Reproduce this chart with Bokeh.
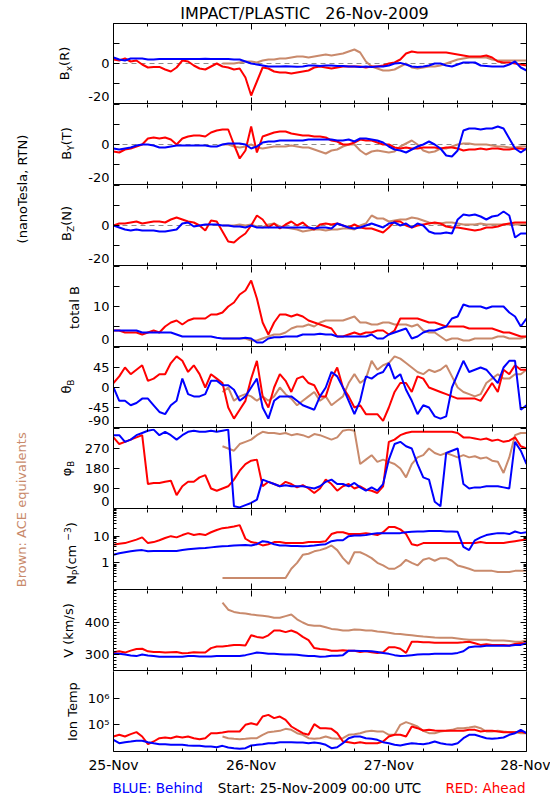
import math
from bokeh.plotting import figure
from bokeh.layouts import column, row
from bokeh.models import (Range1d, FixedTicker, LinearAxis, LogAxis, CustomJSTickFormatter, Span,
                          CustomLabelingPolicy)
from bokeh.core.properties import value
from bokeh.embed import file_html
from bokeh.resources import INLINE

# ---------------- data: hourly samples ----------------
HOURS = list(range(0, 73))        # hours since 25-Nov-2009 00:00 UTC (STEREO A/B)
ACE_HOURS = list(range(19, 73))   # ACE equivalents start ~19 UT on 25-Nov

DAY_TICKS = [0, 24, 48, 72]
DAY_LABELS = ["25-Nov", "26-Nov", "27-Nov", "28-Nov"]
SIX_HOUR_TICKS = [6, 12, 18, 30, 36, 42, 54, 60, 66]

BX_BEHIND = [3, 2, 1.5, 2.5, 2.5, 2.5, 2, 2, 2.3, 2.3, 2.3, 2.3,
             2.3, 2.3, 2.2, 2.3, 2.4, 2.3, 2.2, 2.3, 2.3, 2, 2, 1,
             0, -0.5, -1, -1.5, -1.5, -1.5, -1.4, -1.5, -1.6, -1.5, -1, -1,
             -1.2, -1, -1, -1.2, -1.2, -1.5, -1.5, -1.7, -1.5, -1.7, -1.5, -1.5,
             -1, 0, 0.3, -0.5, -1.5, -1.7, -1.5, -1, 0, 0, -1, -1.5,
             -0.5, 0.5, 0.5, 0.5, -1, -1.2, -1.5, -1.5, -1.5, -0.5, 1, -2,
             -3.5]
BX_AHEAD = [2, 1.5, 2.5, 1, 1.5, -0.5, -2, -1.8, -1.7, -3, -4, -2,
            1.5, 1, -1, -2.5, -3, -1.5, 0, -1.5, -2, -3, -2.5, -7,
            -16, -9, -2, -2.5, -4, -4.5, -4.5, -5, -4.5, -4, -3.5, -2,
            -1.5, -2, -2.5, -2, -1.5, -1.5, -1.5, -1.5, -2, -1.5, -1.5, -1,
            0, 0.5, 2, 5, 6, 5.5, 5.5, 5.5, 5.5, 5.5, 5.5, 5,
            4.5, 4, 3.5, 3.5, 3.5, 4, 3, 1, 0.5, 0.5, 0, -0.5,
            -1]
BX_ACE = [0, 0, 0, 0.5, 1, 1, 0.5, 1.5, 2, 2, 2.5, 2.5,
          3, 3.5, 3.5, 3, 3.5, 4, 4.5, 4, 4.5, 5, 6, 7,
          5.5, 1, -1.5, -2.5, -3.5, -3.5, -3, -1.5, 0, -2, -2.5, -2,
          -1.5, -1.5, -1, 0, 1, 2, 2.5, 3, 3, 3, 3, 2,
          1.5, 1.5, 1.5, 1.5, 1.5, 1.5]

BY_BEHIND = [-2, -2.5, -2, -1.5, -0.5, 0, 0, -0.5, -1.5, -1.5, -1, -0.5,
             -0.5, -0.5, -0.5, -0.5, -0.5, -1, -1, 0, 0.5, 0.5, 0.5, 0,
             -2, -1, 1, 1.5, 1.5, 2, 2, 2, 2, 2, 2.5, 2.5,
             2.5, 2.5, 2.5, 2, 2, 2.5, 1.5, 3, 3, 2.5, 2, 1,
             -1, -2.5, -3, -4, -2.5, -1, 0, 1.5, 0, -2, -5.5, -6,
             -3, 7, 8, 8, 7.5, 8, 8, 9, 8, 3, -2, -4,
             -2]
BY_AHEAD = [-3.5, -4, -2.5, -2, -1, 0, 3, 3.5, 3, 3.5, 2.5, 0,
            3, 4, 4.5, 4.5, 4, 6, 7, 7.5, 7.5, 0, -7, -3,
            9, -4, 4, 5, 6, 6.5, 6.5, 5.5, 5, 4.5, 4.5, 4,
            4, 3.5, 2, 1.5, 0, 0, 1, 2.5, 2, 2, 1, 0,
            0, -1.5, -2, -1.5, -2, -2, -1.5, -1.5, -1.5, -2, -1.5, -1.5,
            -2, -3, -2.5, -2.5, -2, -2.5, -2, -2, -2.5, -2.5, -2, -2,
            -2.5]
BY_ACE = [0, 0, -1, -1.5, -1, 0, -1.5, -2, -1.5, -1, -1, -1,
          -0.5, -1, -1.5, -1.5, -2.5, -3.5, -4.5, -3, -2.5, -1, 0, 0,
          -3, -5, -3.5, -3, -3.5, -4, -3.5, -1, 0.5, 2, 0, -3,
          -4, -3.5, -2, -2, -1, 0, 0.5, 0.5, 0, 0, 0, -0.5,
          -1, -1, -1.5, -1.5, -1, -1]

BZ_BEHIND = [0, -1, -2, -2.5, -2, -2.5, -2.5, -2.5, -3, -3, -2.5, -2,
             1, 1.5, -0.5, 0, 0.5, 0.5, 0.5, 0, 0, -0.5, -0.5, -1,
             0, -1, -1, -1, -1, -1, -1, -1, -1, -1, -1, -1.5,
             -1, -1, -1.5, 1, 0, -1, -1.5, -1, 0, 1, 0, -1,
             1, 1.5, 0, 1, -1, 1, 0, -3, -4, -4, -3.5, -4,
             3, 5.5, 5, 5.5, 4.5, 3, 4.5, 5, 7, 5, -6, -4,
             -4]
BZ_AHEAD = [0, 1, 1, 1.5, 2, 1, 1.5, 2, 2, 1.5, 3, 4,
            3, 2, 1.5, 0, -2.5, 2.5, 2, -3, -8, -8.5, -6, -4,
            0, 5, 3, -1, 1, -1.5, 0.5, 2, 0, 1.5, -1, -2,
            0.5, 1, 0.5, 1, 0, -1, 0.5, -1, -1.5, -1.5, -2.5, -3.5,
            -1, 2, 2, 0, -1, 0, 0.5, 1, 1.5, 1, -0.5, -1,
            -1, -1.5, -2, -2.5, -2, -1, -1, -0.5, 0.5, 1, 1.5, 1.5,
            1.5]
BZ_ACE = [0, 0, 0, 0.5, 0, 0.5, -0.5, -1, 0.5, 1, -0.5, -1,
          -1.5, -2, -3, -2.5, -2, -2, -2.5, -2, -2, -1.5, -1.5, -2,
          0, 1, 5, 3.5, 3.5, 2, 2.5, 3, 3, 4, 3.5, 2.5,
          1.5, 1, 1, 1.5, 1.5, 1, 0.5, 0.5, 0.5, 1, 0.5, 0.5,
          0.5, 0.5, 0.5, 0.5, 0.5, 0.5]

BT_AHEAD = [4, 4, 3.5, 3.5, 3.5, 3, 3.5, 4, 3.5, 5, 6, 6.5,
            5.5, 6.5, 7, 7, 7, 8, 8, 8.5, 10, 11, 13, 14,
            16.5, 12, 6, 3, 6, 8, 8, 7.5, 8, 7.5, 6.5, 6,
            5.5, 5, 4.5, 2.5, 2.5, 3, 3.5, 3, 3.5, 3.5, 4, 4,
            3, 4, 7, 7, 7, 7, 6.5, 6, 6, 5.5, 5, 5,
            5, 5, 4.5, 4.5, 4.5, 4.5, 4.5, 4, 3.5, 3.5, 3, 2.5,
            2.5]
BT_BEHIND = [4, 4, 4, 4, 4, 3.5, 3.5, 3.5, 3.5, 3.5, 3.5, 3,
             2.5, 2.5, 2.5, 2.5, 2.5, 2.5, 2.2, 2, 2, 2, 2, 2.2,
             2, 1, 1, 2, 2.3, 2.3, 2.5, 2.5, 2.5, 3, 3, 3,
             3.2, 3, 3, 2.5, 2.5, 2.5, 2.5, 2.5, 2.5, 3, 2, 2,
             3, 3.5, 4, 4.5, 2, 2.5, 3.5, 4, 4, 4.5, 5, 7,
             7.5, 10.5, 10, 10, 10, 9.5, 10, 10, 10, 8.5, 7.5, 5,
             7]
BT_ACE = [2, 2, 2, 2, 2, 1.5, 1.5, 2, 2.5, 3, 3, 3.5,
          4.5, 5, 5, 5.5, 5, 6, 6.5, 6.5, 6.5, 6.5, 7, 7.5,
          6, 6, 5.5, 5.5, 6, 6, 5.5, 5.5, 5.5, 5, 5.5, 4,
          3.5, 3.5, 2.5, 1.5, 2, 2, 1.5, 1.5, 2, 2, 2, 2,
          2.5, 2.5, 2, 2, 2, 2.5]

TH_BEHIND = [0, -30, -30, -40, -35, -25, -25, -40, -55, -60, -40, -30,
             20, -15, -20, -20, -15, 15, 15, 5, 5, -5, -30, -20,
             0, 20, -45, -70, -30, -20, -20, -20, -30, -40, -45, -50,
             -20, 0, 35, 25, 0, -30, -60, -30, 25, 20, 30, 35,
             55, 20, 30, -5, -30, -60, -40, -45, -65, -70, -65, 0,
             30, 60, 35, 40, 45, 40, 25, 10, 45, 60, 60, -50,
             -40]
TH_AHEAD = [10, 25, 45, 30, 40, 50, 15, 20, 30, 30, 55, 70,
            60, 35, 50, 30, 0, 30, 20, 10, -45, -70, -50, -30,
            20, 60, -20, -45, 0, 30, 15, -10, 20, 25, 10, 5,
            -20, -20, 20, 45, 0, -20, -45, -40, -60, -60, -60, -75,
            -45, -10, 10, 10, -10, 25, 20, 0, -5, -10, -15, -20,
            -25, -25, -25, -25, -30, -10, 10, -10, 40, 30, 50, 40,
            40]
TH_ACE = [-10, 0, -30, -20, -15, -20, -30, -20, -30, -20, 0, -15,
          -25, -40, -30, -20, -10, -30, -20, -40, -30, -20, 10, 30,
          10, 20, 60, 40, 50, 55, 70, 65, 55, 45, 35, 30,
          40, 35, 40, 50, 25, 0, -10, -15, -20, -15, 10, 20,
          30, 20, 20, 30, 30, 40]

PH_BEHIND = [330, 330, 300, 310, 330, 340, 350, 355, 330, 345, 330, 310,
             330, 345, 350, 345, 345, 350, 345, 350, 355, 10, 5, 15,
             25, 40, 130, 120, 110, 100, 105, 100, 100, 100, 95, 90,
             100, 120, 130, 110, 110, 100, 115, 95, 80, 95, 80, 110,
             220, 290, 300, 280, 270, 200, 140, 130, 30, 10, 250, 260,
             270, 110, 90, 95, 95, 100, 100, 100, 95, 90, 300, 260,
             200]
PH_AHEAD = [320, 290, 300, 310, 320, 330, 110, 115, 115, 120, 125, 60,
            100, 120, 120, 140, 150, 90, 80, 90, 100, 130, 170, 200,
            215, 220, 100, 120, 110, 100, 120, 110, 95, 105, 90, 70,
            90, 130, 110, 80, 100, 110, 90, 100, 85, 80, 70, 100,
            300, 310, 330, 340, 345, 345, 345, 345, 345, 345, 345, 345,
            340, 320, 320, 315, 310, 315, 305, 310, 300, 305, 320, 280,
            270]
PH_ACE = [280, 270, 260, 290, 300, 310, 330, 345, 340, 340, 335, 340,
          330, 335, 330, 320, 335, 330, 320, 310, 320, 350, 355, 350,
          200, 220, 240, 210, 220, 210, 200, 180, 140, 200, 230, 240,
          270, 250, 240, 250, 240, 230, 240, 230, 235, 225, 230, 215,
          210, 160, 230, 330, 340, 340]

NP_AHEAD = [4.8, 5.2, 5.5, 6.4, 7.4, 9, 5.5, 6, 7, 8.5, 10, 9,
            11, 13, 11, 12, 11, 14, 17, 20, 21, 23, 26, 8,
            6, 5.5, 4.5, 5, 6, 6, 5.5, 5.5, 5.5, 5.5, 6, 6,
            6, 6.5, 12, 14, 14, 12, 12, 12, 13, 12, 11, 14,
            22, 22, 18, 12, 5, 4.5, 5.5, 5.5, 5.5, 5.5, 5.5, 5.5,
            5.5, 5.5, 5.5, 5.5, 6, 5.5, 5.5, 5.5, 5.5, 6, 6.5, 7,
            7.5]
NP_BEHIND = [2, 2.3, 2.5, 2.7, 2.9, 3, 2.7, 2.8, 2.8, 2.8, 2.8, 2.8,
             3, 3.2, 3.4, 3.5, 3.6, 3.8, 4, 4.2, 4.3, 4.5, 4.6, 4.7,
             4.5, 5, 6.5, 6, 5, 4.5, 4.5, 4.3, 4.3, 4.2, 4.3, 4.5,
             4.8, 5, 6.5, 7, 7, 10, 10.5, 10.5, 11, 12, 13, 13,
             13, 13, 13, 14, 14.5, 15, 15, 15.5, 15.5, 15.5, 15, 15,
             14.5, 4, 3, 7, 9, 11, 12, 13, 13, 12, 15, 13,
             14]
NP_ACE = [0.27, 0.27, 0.27, 0.27, 0.27, 0.27, 0.27, 0.27, 0.27, 0.27, 0.27, 0.27,
          0.6, 1.0, 2, 2.2, 2.7, 3, 3.5, 4.5, 3, 1.5, 0.9, 2.5,
          2.5, 2, 1.5, 1, 0.8, 0.6, 0.6, 0.8, 1.3, 1, 0.8, 1.3,
          1.5, 1.2, 1.5, 1.5, 1.2, 0.8, 0.7, 0.6, 0.5, 0.5, 0.5, 0.5,
          0.45, 0.45, 0.45, 0.5, 0.5, 0.5]

V_BEHIND = [302, 302, 300, 297, 295, 300, 297, 295, 293, 293, 293, 293,
            293, 295, 295, 294, 294, 294, 295, 295, 295, 295, 295, 298,
            302, 306, 305, 302, 302, 301, 300, 300, 299, 297, 295, 295,
            293, 294, 296, 296, 298, 312, 312, 311, 311, 310, 308, 305,
            302, 298, 295, 296, 298, 300, 301, 301, 302, 302, 302, 302,
            305, 310, 323, 325, 325, 327, 327, 327, 327, 327, 330, 330,
            335]
V_AHEAD = [307, 310, 306, 312, 317, 318, 310, 308, 308, 306, 307, 308,
           304, 305, 307, 306, 306, 320, 325, 325, 327, 330, 330, 328,
           360, 355, 352, 360, 375, 375, 370, 375, 368, 355, 345, 320,
           317, 316, 312, 312, 313, 312, 312, 308, 310, 307, 305, 307,
           323, 323, 318, 305, 340, 340, 338, 338, 337, 337, 337, 337,
           337, 338, 340, 335, 330, 332, 330, 330, 330, 328, 333, 335,
           335]
V_ACE = [462, 440, 433, 430, 428, 425, 423, 421, 419, 415, 415, 420,
         425, 410, 400, 392, 390, 390, 385, 380, 378, 375, 375, 378,
         377, 375, 375, 372, 370, 368, 365, 364, 362, 360, 358, 356,
         355, 353, 352, 352, 352, 350, 348, 346, 346, 346, 346, 344,
         344, 344, 342, 340, 340, 345]

T_BEHIND = [27400, 20500, 22400, 23700, 25100, 25100, 22400, 20500, 18800, 18800, 17800, 17800,
            17800, 16800, 16300, 16300, 15400, 15400, 14500, 16300, 14100, 13300, 12600, 13300,
            16800, 17800, 18800, 20500, 20500, 22400, 22400, 22400, 21700, 21700, 20500, 21700,
            20500, 17800, 13300, 14500, 20500, 31600, 36500, 36500, 31600, 29900, 27400, 22400,
            20500, 17800, 16800, 18800, 20500, 19400, 18800, 20500, 23700, 20500, 18800, 17800,
            20500, 31600, 42200, 42200, 36500, 31600, 29900, 31600, 33500, 42200, 48700, 64900,
            48700]
T_AHEAD = [36500, 42200, 36500, 44700, 53100, 36500, 18800, 23700, 31600, 33500, 31600, 36500,
           33500, 36500, 31600, 29000, 31600, 48700, 48700, 51600, 56200, 56200, 56200, 100000,
           115000, 100000, 205000, 237000, 178000, 205000, 154000, 86600, 64900, 48700, 42200, 106000,
           75000, 75000, 70800, 48700, 23700, 22400, 20500, 22400, 20500, 20500, 20500, 23700,
           36500, 42200, 42200, 36500, 86600, 75000, 61300, 64900, 61300, 59600, 59600, 59600,
           59600, 59600, 64900, 64900, 56200, 59600, 59600, 56200, 53100, 53100, 53100, 56200,
           48700]
T_ACE = [36500, 31600, 29900, 29000, 29900, 31600, 31600, 42200, 53100, 56200, 59600, 70800,
         64900, 48700, 42200, 31600, 29900, 31600, 36500, 31600, 29900, 31600, 42200, 44700,
         48700, 56200, 59600, 56200, 56200, 42200, 42200, 100000, 126000, 106000, 86600, 59600,
         48700, 48700, 56200, 59600, 64900, 75000, 75000, 79400, 86600, 75000, 56200, 56200,
         59600, 56200, 53100, 53100, 48700, 48700]

# tick labels
B_TICK_LABELS = ["-20", "0"]
BT_TICK_LABELS = ["0", "10"]
TH_TICK_LABELS = ["-90", "-45", "0", "45"]
PH_TICK_LABELS = ["0", "90", "180", "270"]
NP_TICK_LABELS = ["1", "10"]
V_TICK_LABELS = ["300", "400"]
T_TICK_LABELS = ["10\u2075", "10\u2076"]

TITLE = "IMPACT/PLASTIC\u00a0 \u00a026-Nov-2009"
FOOT_LEFT = "BLUE: Behind"
FOOT_MID = "Start: 25-Nov-2009 00:00 UTC"
FOOT_RIGHT = "RED: Ahead"

BLUE = "#0000ff"
RED = "#ff0000"
BROWN = "#c98a6c"
FONT = "DejaVu Sans"

# ---------------- layout geometry (page origin = top-left of the picture) ----------------
LEFT_W = 81
FRAME_W = 413
FRAME_H = 80
BORDER_L = 30
BORDER_R = 26
HEADER_H = 22
LAST_BOTTOM = 27
FOOTER_H = 18
COL_H = 1 + 9 * (FRAME_H + 1) - 1 + LAST_BOTTOM   # height of the panels column
PANEL_W = BORDER_L + FRAME_W + BORDER_R
TOTAL_W = LEFT_W + PANEL_W
ROW_TOP = HEADER_H
FOOT_TOP = ROW_TOP + COL_H
BASE_FIX = 0.23   # text is drawn this much (in em) below the requested alphabetic baseline

log_minor = [m * d for d in (0.1, 1, 10) for m in range(2, 10)] + [0.1, 100]
v_minor = [v for v in range(250, 501, 10) if v not in (300, 400)]

# label positions sit a little inside the frame at the bottom edge (as in the IDL original)
SPECS = [
    dict(yr=(-20, 20), log=False, marks=[-20, -10, 0, 10, 20], pos=[-16.6, 0], labels=B_TICK_LABELS,
         zero=True, series=(BX_ACE, BX_AHEAD, BX_BEHIND)),
    dict(yr=(-20, 20), log=False, marks=[-20, -10, 0, 10, 20], pos=[-16.6, 0], labels=B_TICK_LABELS,
         zero=True, series=(BY_ACE, BY_AHEAD, BY_BEHIND)),
    dict(yr=(-20, 20), log=False, marks=[-20, -10, 0, 10, 20], pos=[-16.6, 0], labels=B_TICK_LABELS,
         zero=True, series=(BZ_ACE, BZ_AHEAD, BZ_BEHIND)),
    dict(yr=(0, 20), log=False, marks=[0, 5, 10, 15, 20], pos=[1.75, 10], labels=BT_TICK_LABELS,
         zero=False, series=(BT_ACE, BT_AHEAD, BT_BEHIND)),
    dict(yr=(-90, 90), log=False, marks=[-90, -45, 0, 45, 90], pos=[-74.7, -45, 0, 45], labels=TH_TICK_LABELS,
         zero=False, series=(TH_ACE, TH_AHEAD, TH_BEHIND)),
    dict(yr=(0, 360), log=False, marks=[0, 90, 180, 270, 360], pos=[30.6, 90, 180, 270], labels=PH_TICK_LABELS,
         zero=False, series=(PH_ACE, PH_AHEAD, PH_BEHIND)),
    dict(yr=(0.1, 100), log=True, major=[1, 10], minor=log_minor, labels=NP_TICK_LABELS,
         zero=False, series=(NP_ACE, NP_AHEAD, NP_BEHIND)),
    dict(yr=(250, 500), log=False, major=[300, 400], minor=v_minor, labels=V_TICK_LABELS,
         zero=False, series=(V_ACE, V_AHEAD, V_BEHIND)),
    dict(yr=(1e4, 1e7), log=True, major=[1e5, 1e6], minor=[], labels=T_TICK_LABELS,
         zero=False, series=(T_ACE, T_AHEAD, T_BEHIND)),
]


def set_ticks(ax, ticker, major_len, minor_len, line=True):
    ax.ticker = ticker
    ax.major_tick_in = major_len
    ax.major_tick_out = 0
    ax.minor_tick_in = minor_len
    ax.minor_tick_out = 0
    ax.major_tick_line_color = "black"
    ax.minor_tick_line_color = "black"
    ax.axis_line_color = "black" if line else None
    ax.axis_line_width = 1


def hide_labels(ax):
    ax.formatter = CustomJSTickFormatter(code="return '';")
    ax.major_label_policy = CustomLabelingPolicy(code="return new Set();")
    ax.major_label_text_font_size = "0px"
    ax.major_label_standoff = 0


def show_labels(ax, positions, labels, size, standoff):
    ax.major_label_overrides = {p: l for p, l in zip(positions, labels)}
    ax.major_label_text_font = FONT
    ax.major_label_text_font_size = size
    ax.major_label_text_color = "black"
    ax.major_label_standoff = standoff


xr = Range1d(0, 72)
panels = []
for i, s in enumerate(SPECS):
    first = i == 0
    last = i == len(SPECS) - 1
    p = figure(title=None, x_range=xr, y_range=Range1d(*s["yr"]),
               y_axis_type="log" if s["log"] else "linear",
               frame_width=FRAME_W, frame_height=FRAME_H,
               min_border_left=BORDER_L, min_border_right=BORDER_R,
               min_border_top=1 if first else 0,
               min_border_bottom=LAST_BOTTOM if last else 1,
               output_backend="svg", toolbar_location=None)
    p.outline_line_color = None
    p.background_fill_color = "white"
    p.border_fill_color = "white"
    p.xgrid.visible = False
    p.ygrid.visible = False

    left_ax = p.left[0]
    bottom = p.below[0]
    right = LogAxis() if s["log"] else LinearAxis()
    p.add_layout(right, "right")
    top = LinearAxis()
    p.add_layout(top, "above")

    # y axes: left with labels, right with ticks only (all ticks point inward)
    if "marks" in s:
        set_ticks(left_ax, FixedTicker(ticks=s["pos"], minor_ticks=s["marks"]), 0, 6)
        set_ticks(right, FixedTicker(ticks=s["pos"], minor_ticks=s["marks"]), 0, 6)
        show_labels(left_ax, s["pos"], s["labels"], "13px", 4)
    else:
        set_ticks(left_ax, FixedTicker(ticks=s["major"], minor_ticks=s["minor"]), 6, 3)
        set_ticks(right, FixedTicker(ticks=s["major"], minor_ticks=s["minor"]), 6, 3)
        show_labels(left_ax, s["major"], s["labels"], "13px", 4)
    hide_labels(right)

    # x axes: top and bottom
    set_ticks(top, FixedTicker(ticks=DAY_TICKS, minor_ticks=SIX_HOUR_TICKS), 6, 3, line=first)
    hide_labels(top)
    set_ticks(bottom, FixedTicker(ticks=DAY_TICKS, minor_ticks=SIX_HOUR_TICKS), 6, 3)
    if last:
        show_labels(bottom, DAY_TICKS, DAY_LABELS, "14px", 5)
    else:
        hide_labels(bottom)

    if s["zero"]:
        p.add_layout(Span(location=0, dimension="width", line_color="#8c8c8c",
                          line_dash="5 4", line_width=1, level="underlay"))

    ace, ahead, behind = s["series"]
    p.line(ACE_HOURS, ace, line_color=BROWN, line_width=2)
    p.line(HOURS, ahead, line_color=RED, line_width=2)
    p.line(HOURS, behind, line_color=BLUE, line_width=2)
    panels.append(p)


def bare(w, h):
    f = figure(title=None, x_range=Range1d(0, w), y_range=Range1d(0, h),
               width=w, height=h, frame_width=w, frame_height=h, min_border=0,
               min_border_left=0, min_border_right=0, min_border_top=0, min_border_bottom=0,
               x_axis_location=None, y_axis_location=None,
               output_backend="svg", toolbar_location=None)
    f.outline_line_color = None
    f.background_fill_color = "white"
    f.border_fill_color = "white"
    f.xgrid.visible = False
    f.ygrid.visible = False
    return f


# ---------------- left label column (rotated labels) ----------------
CW = {'B': .686, 'x': .592, 'Y': .611, 'Z': .685, 'N': .748, 'R': .695, 'T': .611, '(': .390,
      ')': .390, '\u03b8': .602, '\u03c6': .72, 'P': .603, ' ': .318, 'c': .550, 'm': .974,
      '-': .361, '\u2212': .838, '3': .636, 'V': .684, 'k': .579, '/': .337, 's': .521, 't': .392,
      'o': .612, 'a': .613, 'l': .278, 'I': .295, 'n': .634, 'e': .615, 'p': .635, ',': .318,
      'r': .411, 'w': .818, ':': .337, 'A': .684, 'C': .698, 'E': .632, 'q': .635, 'u': .634,
      'i': .278, 'v': .592}


def tw(t, size):
    return sum(CW.get(c, 0.6) for c in t) * size


left = bare(LEFT_W, COL_H)


def vlabel(page_xb, page_yc, pieces, color="black", size=13):
    """Rotated (bottom-to-top) label; page_xb = baseline x, page_yc = centre y (picture pixels)."""
    yc = COL_H - (page_yc - ROW_TOP)
    total = sum(tw(t, size * sc) for t, sc, _ in pieces)
    y = yc - total / 2
    for t, sc, sh in pieces:
        fs = size * sc
        left.text(x=[page_xb + sh - BASE_FIX * fs], y=[y], text=[t], angle=math.pi / 2,
                  text_align="left", text_baseline="alphabetic",
                  text_font=value(FONT), text_font_size=value(f"{fs:g}px"),
                  text_color=color)
        y += tw(t, fs)


vlabel(25, 187, [("(nanoTesla, RTN)", 1, 0)])
vlabel(24, 509, [("Brown: ACE equivalents", 1, 0)], color=BROWN)
vlabel(67, 63, [("B", 1, 0), ("x", 0.7, 4), ("(R)", 1, 0)])
vlabel(69, 143, [("B", 1, 0), ("Y", 0.7, 4), ("(T)", 1, 0)])
vlabel(69, 223, [("B", 1, 0), ("Z", 0.7, 4), ("(N)", 1, 0)])
vlabel(77, 307, [("total B", 1, 0)])
vlabel(69, 386, [("\u03b8", 1, 0), ("B", 0.7, 4)])
vlabel(69, 468, [("\u03c6", 1, 0), ("B", 0.7, 4)])
vlabel(74, 553, [("N", 1, 0), ("P", 0.7, 3.5), (" (cm", 1, 0), ("\u22123", 0.7, -5), (")", 1, 0)])
vlabel(71, 630, [("V (km/s)", 1, 0)])
vlabel(75, 710, [("Ion Temp", 1, 0)])

# ---------------- header (title) ----------------
TITLE_SIZE = 16
header = bare(TOTAL_W, HEADER_H)
header.text(x=[304], y=[HEADER_H - (17 - BASE_FIX * TITLE_SIZE)], text=[TITLE], text_align="center",
            text_baseline="alphabetic", text_font=value(FONT), text_font_size=value(f"{TITLE_SIZE}px"),
            text_color="black")

# ---------------- footer ----------------
FOOT_SIZE = 13.5
footer = bare(TOTAL_W, FOOTER_H)
fy = FOOTER_H - (791 - BASE_FIX * FOOT_SIZE - FOOT_TOP)
for txt, px, align, col in ((FOOT_LEFT, 112, "left", BLUE), (FOOT_MID, 319, "center", "black"),
                            (FOOT_RIGHT, 525, "right", RED)):
    footer.text(x=[px], y=[fy], text=[txt], text_align=align, text_baseline="alphabetic",
                text_font=value(FONT), text_font_size=value(f"{FOOT_SIZE:g}px"), text_color=col)

layout = column(header, row(left, column(*panels)), footer)

open("out.html", "w").write(file_html(layout, INLINE, title="IMPACT/PLASTIC"))
